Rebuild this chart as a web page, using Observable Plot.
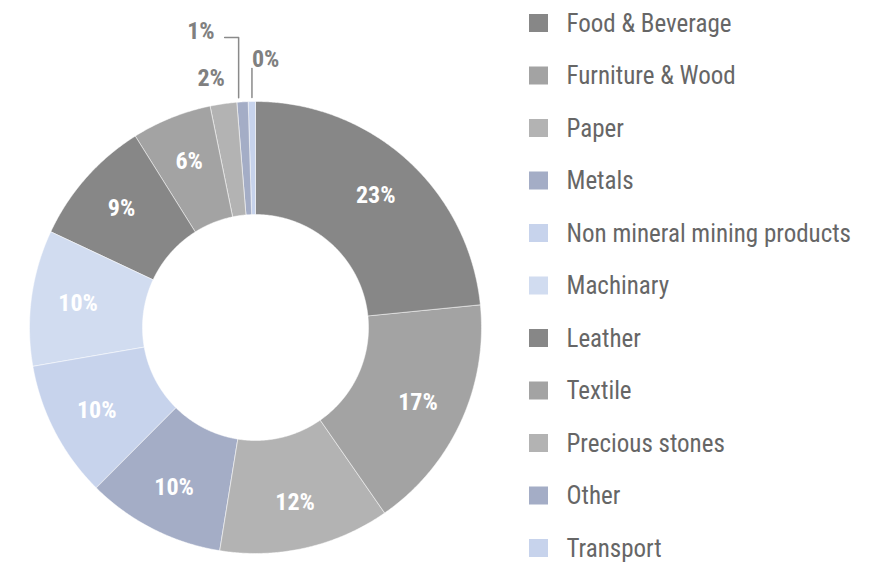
<!DOCTYPE html>
<html>
<head>
<meta charset="utf-8">
<script src="https://cdn.jsdelivr.net/npm/d3@7"></script>
<script src="https://cdn.jsdelivr.net/npm/@observablehq/plot@0.6"></script>
<style>
  html, body { margin: 0; padding: 0; background: #fff; }
  #chart { width: 884px; height: 563px; }
</style>
</head>
<body>
<div id="chart"></div>
<script>
// ---- data ----
const categories = ["Food & Beverage", "Furniture & Wood", "Paper", "Metals", "Non mineral mining products", "Machinary", "Leather", "Textile", "Precious stones", "Other", "Transport"];
const shares = [23.4, 16.9, 12.2, 9.9, 9.8, 9.7, 9.1, 5.7, 1.9, 0.8, 0.49];
const colors = ["#878787", "#a3a3a3", "#b3b3b3", "#a4adc6", "#c7d3ec", "#d1dcf0", "#878787", "#a3a3a3", "#b3b3b3", "#a4adc6", "#c7d3ec"];

// ---- layout ----
const W = 884, H = 563;
const cx = 255, cy = 327;         // centre in pixels
const R = 226, r0 = 113;          // outer / inner radius
const labelR = 179;
const FONT = "'Roboto Condensed', 'Liberation Sans Narrow', Roboto, sans-serif";

const total = d3.sum(shares);
let cum = 0;
const slices = categories.map((c, i) => {
  const a0 = cum / total * 2 * Math.PI;
  cum += shares[i];
  const a1 = cum / total * 2 * Math.PI;
  return {cat: c, value: shares[i], a0, a1, mid: (a0 + a1) / 2, label: Math.round(shares[i]) + "%"};
});
const px = (rad, a) => rad * Math.sin(a);
const py = (rad, a) => rad * Math.cos(a);

// polygon points for each slice (arc sampled)
const pts = [];
for (const s of slices) {
  const n = Math.max(2, Math.ceil((s.a1 - s.a0) / (0.4 * Math.PI / 180)));
  for (let k = 0; k <= n; k++) {
    const a = s.a0 + (s.a1 - s.a0) * k / n;
    pts.push({cat: s.cat, x: px(R, a), y: py(R, a)});
  }
  for (let k = n; k >= 0; k--) {
    const a = s.a0 + (s.a1 - s.a0) * k / n;
    pts.push({cat: s.cat, x: px(r0, a), y: py(r0, a)});
  }
}

const inside = slices.filter(s => s.value >= 5).map(s => ({text: s.label, x: px(labelR, s.mid), y: py(labelR, s.mid)}));

// outside labels for the small slices
const prec = slices[8], oth = slices[9], tra = slices[10];
const oX = px(R + 4, oth.mid) - 4, tX = px(R + 4, tra.mid);
const precLabel = [{text: prec.label, x: px(252, prec.mid) - 9, y: py(252, prec.mid)}];
const othLabel = [{text: oth.label, x: oX - 24, y: 296}];
const traLabel = [{text: tra.label, x: tX, y: 268}];
const leaders = [
  {g: "o", x: oX - 14, y: 290},
  {g: "o", x: oX, y: 290},
  {g: "o", x: oX, y: py(R + 4, oth.mid)},
  {g: "t", x: tX, y: 259},
  {g: "t", x: tX, y: py(R + 4, tra.mid)}
];

// legend rows
const legend = categories.map((c, i) => ({cat: c, y: cy - (23 + i * 52.5)}));

const chart = Plot.plot({
  width: W,
  height: H,
  margin: 0,
  x: {domain: [-cx, W - cx], range: [0, W], axis: null},
  y: {domain: [cy - H, cy], range: [H, 0], axis: null},
  color: {type: "ordinal", domain: categories, range: colors},
  style: {fontFamily: FONT, background: "white"},
  marks: [
    Plot.line(pts, {x: "x", y: "y", z: "cat", fill: "cat", stroke: "white", strokeWidth: 0.5, curve: "linear-closed"}),
    Plot.text(inside, {x: "x", y: "y", text: "text", fill: "white", fontWeight: "bold", fontSize: 24}),
    Plot.line(leaders, {x: "x", y: "y", z: "g", stroke: "#8a8a8a", strokeWidth: 1.5}),
    Plot.text(precLabel, {x: "x", y: "y", text: "text", textAnchor: "middle", fill: "#808080", fontWeight: "bold", fontSize: 24}),
    Plot.text(othLabel, {x: "x", y: "y", text: "text", textAnchor: "end", fill: "#808080", fontWeight: "bold", fontSize: 24}),
    Plot.text(traLabel, {x: "x", y: "y", text: "text", textAnchor: "start", fill: "#808080", fontWeight: "bold", fontSize: 24}),
    Plot.rect(legend, {x1: 274, x2: 293, y1: d => d.y - 9, y2: d => d.y + 9, fill: "cat"}),
    Plot.text(legend, {x: 311, y: "y", text: "cat", textAnchor: "start", fill: "#666666", fontSize: 25})
  ]
});
document.getElementById("chart").appendChild(chart);
</script>
</body>
</html>
